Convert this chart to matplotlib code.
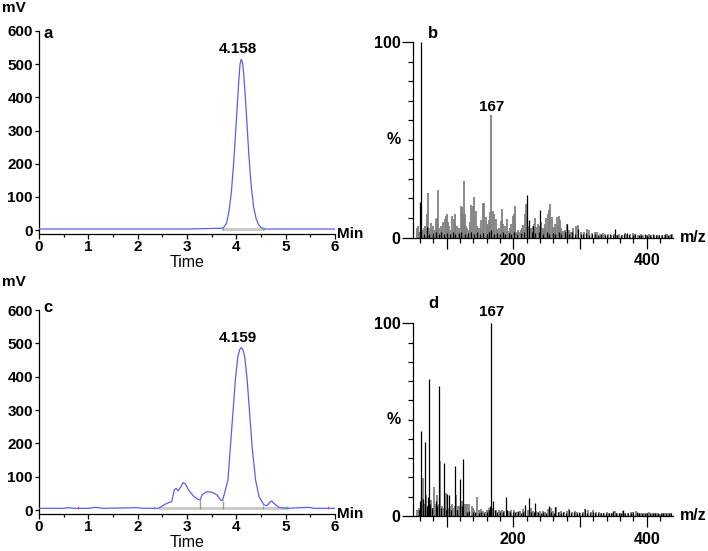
import numpy as np
import matplotlib
matplotlib.use('Agg')
import matplotlib.pyplot as plt

plt.rcParams['font.family'] = ['Liberation Sans', 'DejaVu Sans']
plt.rcParams['font.weight'] = 'bold'

# chromatogram a (time in min, signal in mV)
time_a = [0.0, 0.5, 1.0, 1.5, 2.0, 2.5, 3.0, 3.3, 3.6, 3.7, 3.75, 3.8, 3.85, 3.9, 3.95,
          4.0, 4.05, 4.075, 4.1, 4.125, 4.15, 4.2, 4.25, 4.3, 4.35, 4.4, 4.45, 4.5,
          4.55, 4.6, 5.0, 5.5, 6.0]
mv_a = [3, 3, 3, 3, 3, 3, 3, 4, 5, 5, 9, 20, 55, 115, 210,
        330, 450, 500, 515, 505, 470, 360, 235, 135, 70, 35, 16, 8,
        4, 3, 3, 3, 3]

# chromatogram c
time_c = [0.0, 0.5, 0.6, 0.7, 1.0, 1.15, 1.3, 2.0, 2.1, 2.42, 2.53, 2.59, 2.69, 2.74,
          2.78, 2.82, 2.87, 2.92, 2.97, 3.03, 3.13, 3.22, 3.27, 3.3, 3.4, 3.51, 3.61,
          3.68, 3.72, 3.76, 3.83, 3.88, 3.93, 3.98, 4.03, 4.07, 4.1, 4.13, 4.17, 4.22,
          4.27, 4.32, 4.39, 4.46, 4.56, 4.62, 4.69, 4.72, 4.76, 4.86, 5.03, 5.3, 5.47,
          5.57, 6.0]
mv_c = [5, 5, 7, 5, 5, 8, 5, 7, 5, 5, 15, 20, 25, 60,
        65, 58, 68, 82, 78, 60, 42, 32, 30, 45, 55, 53, 45,
        30, 28, 50, 90, 190, 290, 390, 460, 482, 487, 482, 460, 390,
        290, 190, 90, 40, 15, 13, 25, 27, 20, 8, 5, 7, 8,
        5, 5]

peak_a = (4.1, 515, '4.158')
peak_c = (4.1, 487, '4.159')

# mass spectrum b: grey trace and black trace (m/z, relative %)
mz_b_grey = [55, 57, 59, 63, 66, 68, 70, 71.5, 73, 76, 78, 80, 82, 84.5, 86, 87.5, 89,
             91.5, 93, 95, 97.5, 99, 101, 102, 104, 106, 108.5, 110.5, 112.5, 113, 115,
             117, 119, 121, 123.5, 125, 126, 127.5, 129, 131, 133, 135, 137, 139, 141,
             143.5, 145, 147.5, 150, 152, 154, 156, 158.5, 160, 162, 164, 165, 167, 169,
             171, 173.5, 176, 178, 181, 182.5, 185, 187, 190, 192.5, 195, 197, 199,
             200.5, 202.5, 203, 205.5, 207, 209, 211, 213, 215, 217.5, 219, 221, 224,
             226, 229, 231, 232, 234, 237, 239, 241, 243, 245, 246.5, 248, 249, 251.5,
             253.5, 255.5, 257.5, 259, 260, 262, 263, 265.5, 267, 268, 270, 272, 273,
             276, 278, 280, 283, 285, 288, 290, 294, 297, 302, 306, 310, 313, 318, 322,
             326, 330, 334, 338, 342, 346, 351, 355, 359, 363, 367, 371, 375, 379, 383,
             387, 391, 395, 399, 403, 407, 411, 415, 419, 423, 427, 431, 435, 438]
int_b_grey = [5, 6, 3, 4, 5, 6, 12, 23, 5, 7.5, 4, 6, 4, 9.5, 10, 24.5, 5,
              6, 4, 8, 9.5, 11, 12, 8, 6, 4, 11, 9.5, 12, 7, 6,
              3, 5, 16, 15.5, 12, 29, 12, 6, 5, 4, 8, 16.5, 16, 21,
              13.5, 6, 5, 5, 9, 17.5, 17.5, 10.5, 7, 6, 9, 13, 62.7, 13.5,
              12, 9.5, 4.5, 5, 8.5, 14.5, 7, 6, 9.5, 3.5, 5, 7, 11,
              12, 16, 8, 3, 4, 3, 4, 5, 6.5, 12, 17, 10.5, 6,
              5, 6, 7, 10, 5.5, 7, 6, 8, 5, 4, 5, 7, 10, 12,
              14, 17, 10.5, 4, 5.5, 5, 7, 10.5, 6, 11, 9, 5, 3.5,
              3.5, 4, 7, 4, 3, 3, 5, 6, 6.5, 3, 3, 4.5, 4, 2.5, 3,
              3, 2, 2.5, 2, 2, 1.5, 2, 1.5, 2, 1.5, 2.5, 2, 2, 2.5, 2,
              1.5, 2, 1.5, 1.5, 2, 1.5, 1.5, 1.5, 1.5, 1.5, 1.5, 2, 1.5, 2]
mz_b_black = [60, 61, 66, 71, 74, 79, 84, 88, 92, 96, 100, 105, 109, 113, 118, 122, 127,
              132, 137, 141, 146, 150, 155, 160, 163, 167, 171, 175, 180, 184, 188, 193,
              197, 201, 206, 211, 216, 221, 224, 228, 230, 233, 238, 240, 245, 250, 254,
              259, 263, 268, 272, 277, 280, 284, 288, 292, 297, 301, 305, 309, 314, 318,
              323, 327, 332, 337, 341, 345, 350, 352, 356, 361, 366, 370, 374, 379, 383,
              388, 392, 397, 401, 405, 410, 414, 418, 423, 427, 432, 436]
int_b_black = [18, 100, 2, 5.5, 2, 2.5, 3, 2, 3, 2, 2.5, 2, 3, 2, 2.5, 3, 2,
               2.5, 3, 2, 3, 2, 2.5, 2, 3, 4, 2, 2.5, 2, 3, 2, 2.5,
               2, 3, 2, 2.5, 3, 22, 9, 3, 6, 2.5, 3, 14, 2, 3, 2,
               2.5, 2, 3, 2, 3, 7, 2, 3, 2, 4.5, 2, 2, 2.5, 1.5, 2,
               2, 1.5, 2, 1.5, 1.5, 2, 1.5, 4.5, 1.5, 1.5, 2, 2.5, 1.5, 1.5, 2,
               1.5, 1.5, 2, 1.5, 1.5, 2, 1.5, 1.5, 1.5, 2, 1.5, 2]

# mass spectrum d
mz_d_grey = [56, 58, 62, 64, 66, 68.5, 70, 71, 74, 77, 79, 81.5, 83, 85, 87, 90.5, 93,
             96, 98.5, 102, 105, 107.5, 110, 112, 114, 117, 119, 122.5, 124, 127, 129,
             131, 134, 137.5, 139, 141, 145, 148, 150, 152, 155, 157, 160, 162, 164,
             168, 170, 174, 178, 180, 183, 186, 190, 193, 197, 201, 205, 210, 215, 218,
             222, 226, 230, 234, 236, 240, 244, 248, 252, 256, 260, 264, 268, 272, 276,
             280, 284, 288, 292, 296, 300, 304, 308, 312, 316, 320, 324, 328, 332, 336,
             340, 344, 348, 352, 356, 360, 364, 368, 372, 376, 380, 384, 388, 392, 396,
             400, 404, 408, 412, 416, 420, 424, 428, 432, 436]
int_d_grey = [3, 4, 6, 19.6, 6, 11, 4, 5, 5, 8.5, 4, 15, 6, 11, 6, 28.7, 5,
              4, 12, 4, 5, 6, 4, 5, 11, 5, 5, 8, 4, 6, 6,
              6, 6, 5, 4, 3, 10, 3, 2.5, 3.5, 2.5, 2, 3, 3, 4,
              4, 3.5, 3, 3, 2.5, 3, 2.5, 2.5, 2.5, 3, 3, 2, 2.5, 3.5, 2.5,
              3, 4, 2.5, 2.5, 2, 2.5, 2.5, 2, 3.5, 4, 2.5, 4.5, 2, 2.5, 2,
              2.5, 3.5, 2, 2.5, 2, 1.5, 2, 3.5, 3.3, 2, 3, 2, 2, 1.5, 1.5,
              2, 1.5, 1.5, 2.5, 1.5, 1.5, 2.5, 1.5, 1.5, 2, 2, 2.5, 1.5, 1.5, 1.5,
              1.5, 2, 1.5, 1.5, 1.5, 1, 1.5, 1.5, 1.5, 1.5]
mz_d_black = [59, 60, 61, 62, 65, 67, 70, 72, 73.5, 75, 78, 84, 86, 88, 92, 95.5, 99,
              101, 104, 107, 112, 116, 120, 123, 125, 130, 134, 139, 143, 148, 152, 156,
              160, 163, 165, 167, 169, 172, 176, 180, 184, 189, 191, 195, 199, 203, 207,
              211, 215, 218, 223, 227, 231, 233, 237, 241, 245, 249, 253, 257, 261, 263,
              267, 271, 275, 279, 283, 287, 291, 295, 299, 303, 307, 311, 315, 319, 323,
              327, 331, 335, 339, 343, 347, 350, 354, 358, 362, 364, 368, 372, 376, 380,
              385, 389, 393, 397, 401, 405, 409, 413, 417, 421, 425, 429, 433, 437]
int_d_black = [3, 8, 44, 10, 9, 38.6, 5, 10, 71, 6, 4, 8, 5, 67.6, 4, 27.7, 3,
               11.4, 11, 3, 26, 3, 19, 5, 29.4, 2, 2.5, 2, 2, 1.5, 2, 1.5,
               2, 3, 5, 100, 8, 3, 2, 2, 2, 10, 3, 2, 2, 2, 2.5,
               1.5, 2, 5.5, 9.5, 2, 2, 6.5, 2, 1.5, 2, 1.5, 5, 2, 1.5, 4.5,
               2, 1.5, 2, 1.5, 3, 1.5, 2, 1.5, 2, 1.5, 3.5, 1.5, 1.5, 2, 1.5,
               1.5, 1.5, 1.5, 1.5, 1.5, 1.5, 2.8, 1.5, 1.5, 1.5, 3, 1.5, 1.5, 1.5, 2.2,
               2, 1.5, 1.5, 1.5, 1.5, 1.5, 1.5, 1.5, 1.5, 1.5, 1.5, 1.5, 1.5, 1.5]

label_mz = 167

W, H = 708, 551
fig = plt.figure(figsize=(W / 100, H / 100), dpi=100)


def box(l, t, r, b):
    return [l / W, 1 - b / H, (r - l) / W, (b - t) / H]


def pos(x, y):
    return x / W, 1 - y / H


BLUE = '#5c5cf5'


def chrom(ax, t, mv, peak, letter, top, bottom):
    ax.plot(t, mv, color=BLUE, lw=0.9, zorder=3)
    ax.set_xlim(0, 6)
    ax.set_ylim(-12, 600)
    for s in ['top', 'right']:
        ax.spines[s].set_visible(False)
    for s in ['left', 'bottom']:
        ax.spines[s].set_linewidth(0.9)
    ax.set_xticks(range(7))
    ax.set_xticks(np.arange(0.5, 6, 1), minor=True)
    ax.set_yticks(range(0, 601, 100))
    ax.tick_params(axis='x', which='major', length=3.8, width=0.9, pad=0.8, labelsize=11)
    ax.tick_params(axis='x', which='minor', length=1.8, width=0.9)
    ax.tick_params(axis='y', which='major', length=3, width=0.9, pad=1.5, labelsize=11)
    ax.annotate(peak[2], xy=(peak[0], peak[1]), xytext=(4.04, peak[1] + 30),
                ha='center', va='center', fontsize=11, fontweight='bold')
    # axis captions
    fig.text(*pos(14, top - 23), 'mV', ha='center', va='center', fontsize=11, fontweight='bold')
    fig.text(*pos(43, top + 3), letter, ha='left', va='center', fontsize=12, fontweight='bold')
    fig.text(*pos(337, bottom), 'Min', ha='left', va='center', fontsize=11, fontweight='bold')
    fig.text(*pos(187, bottom + 28.5), 'Time', ha='center', va='center', fontsize=11.5,
             fontweight='normal')


def spectrum(ax, mz_g, in_g, mz_k, in_k, letter, top, lab_y):
    ax.vlines(mz_g, 0, in_g, color='#808080', lw=1.3)
    ax.vlines(mz_k, 0, in_k, color='black', lw=0.9)
    ax.set_xlim(50, 440)
    ax.set_ylim(0, 100)
    for s in ['top', 'right']:
        ax.spines[s].set_visible(False)
    for s in ['left', 'bottom']:
        ax.spines[s].set_linewidth(0.9)
    ax.set_xticks([100, 200, 300, 400])
    ax.set_xticklabels(['', '200', '', '400'])
    ax.set_xticks(np.arange(60, 440, 20), minor=True)
    ax.set_yticks([0, 100])
    ax.set_yticks(np.arange(10, 100, 10), minor=True)
    ax.tick_params(axis='x', which='major', length=7.7, width=0.9, pad=3.5, labelsize=11.5)
    ax.tick_params(axis='x', which='minor', length=3.4, width=0.9)
    ax.tick_params(axis='y', which='major', length=7.7, width=0.9, pad=1.5, labelsize=11.5)
    ax.tick_params(axis='y', which='minor', length=3.4, width=0.9)
    ax.annotate('%', xy=(0, 50), xycoords=('axes fraction', 'data'), xytext=(-9, 0),
                textcoords='offset points', ha='right', va='center', fontsize=11.5,
                fontweight='bold')
    ax.annotate('m/z', xy=(1, 0), xycoords='axes fraction', xytext=(5, 0),
                textcoords='offset points', ha='left', va='center', fontsize=11.5,
                fontweight='bold')
    ax.annotate(str(label_mz), xy=(label_mz, lab_y), xycoords='data', ha='center',
                va='center', fontsize=11, fontweight='bold', annotation_clip=False)
    fig.text(*pos(428, top), letter, ha='left', va='center', fontsize=12, fontweight='bold')


ax_a = fig.add_axes(box(39, 31, 335, 234))
ax_b = fig.add_axes(box(413.3, 42.3, 673.3, 237.5))
ax_c = fig.add_axes(box(39, 310, 335, 514))
ax_d = fig.add_axes(box(413.3, 323.3, 673.3, 516))

# integration baselines / drop lines
ax_a.plot([3.72, 4.55], [2, 2], color='#c8c8c8', lw=2, zorder=2)
ax_c.plot([2.45, 5.03], [5, 5], color='#c8c8c8', lw=2, zorder=2)
ax_c.vlines([3.27, 3.72], 5, [30, 28], color='#a0a0a0', lw=1, zorder=2)
ax_c.vlines([2.33, 3.27, 3.72, 4.55, 5.03], 2, 12, color='#40d040', lw=0.8, zorder=4)
ax_c.vlines([0.8, 5.85], 2, 12, color='#ff4040', lw=0.8, zorder=4)
ax_a.vlines([3.72, 4.55], 0, 9, color='#40d040', lw=0.8, zorder=4)

chrom(ax_a, time_a, mv_a, peak_a, 'a', 31, 234)
chrom(ax_c, time_c, mv_c, peak_c, 'c', 305, 514)
spectrum(ax_b, mz_b_grey, int_b_grey, mz_b_black, int_b_black, 'b', 33, 67)
spectrum(ax_d, mz_d_grey, int_d_grey, mz_d_black, int_d_black, 'd', 303, 106)

fig.savefig('out.png', dpi=100)
